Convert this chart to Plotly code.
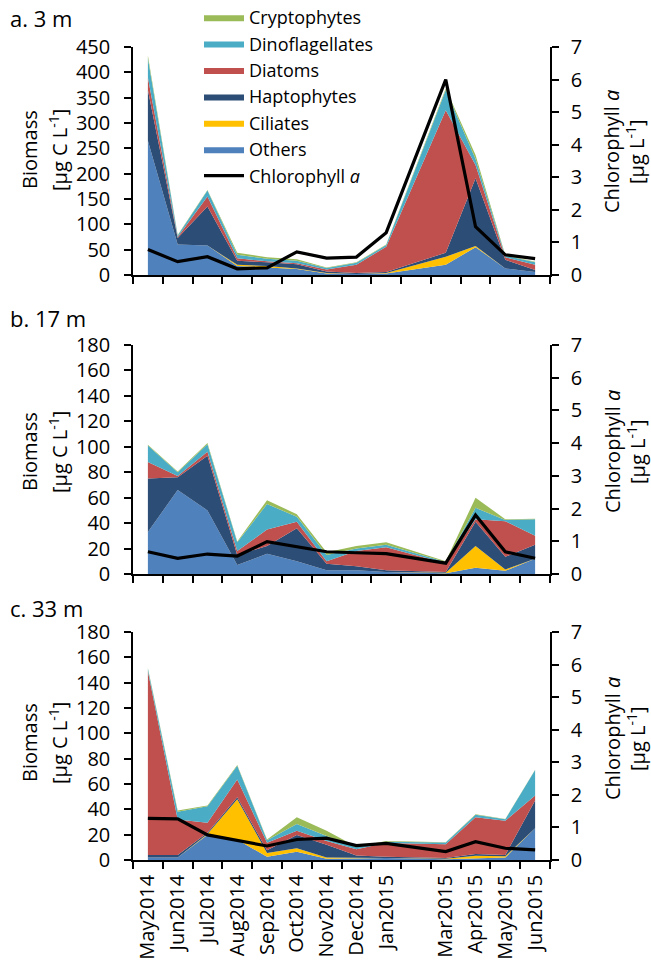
import pandas as pd
import plotly.graph_objects as go

# ---------------- data ----------------
months = ["May2014", "Jun2014", "Jul2014", "Aug2014", "Sep2014", "Oct2014", "Nov2014",
          "Dec2014", "Jan2015", "Mar2015", "Apr2015", "May2015", "Jun2015"]

groups = ["Others", "Ciliates", "Haptophytes", "Diatoms", "Dinoflagellates", "Cryptophytes"]

# panel a: 3 m
others_3m = [265, 60, 58, 18, 15, 12, 3, 2, 3, 20, 55, 13, 6]
ciliates_3m = [0, 0, 0, 2, 3, 1, 1, 0, 1, 16, 2, 0, 0]
hapto_3m = [100, 13, 77, 8, 7, 8, 3, 2, 2, 8, 134, 17, 4]
diatoms_3m = [25, 2, 20, 5, 2, 2, 4, 16, 50, 281, 26, 5, 10]
dino_3m = [38, 3, 12, 7, 5, 5, 3, 4, 3, 40, 12, 3, 5]
crypto_3m = [5, 1, 1, 4, 3, 3, 1, 1, 1, 3, 8, 1, 1]
chl_3m = [0.78, 0.41, 0.56, 0.19, 0.22, 0.71, 0.52, 0.55, 1.3, 6.0, 1.48, 0.62, 0.5]

# panel b: 17 m
others_17m = [33, 66, 50, 7, 16, 10, 3, 3, 1.5, 0.5, 5, 2.5, 12]
ciliates_17m = [0, 0, 0, 0, 0, 0, 0, 0, 0, 0.5, 17, 1, 0]
hapto_17m = [42, 10, 43, 8, 6, 26, 5, 3, 1.5, 0.5, 19, 10, 11]
diatoms_17m = [13, 1, 3, 3, 13, 5, 2, 12, 18, 7, 2, 28, 7]
dino_17m = [13, 3, 6, 7, 20, 4, 5, 2, 2, 1, 9, 1, 13]
crypto_17m = [0.5, 0.5, 1, 0.5, 3, 2, 2, 2, 2, 0.5, 8, 0.5, 0.5]
chl_17m = [0.68, 0.48, 0.61, 0.55, 0.99, 0.84, 0.68, 0.65, 0.62, 0.33, 1.8, 0.68, 0.48]

# panel c: 33 m
others_33m = [2, 2, 20, 16, 2.6, 6.5, 1, 1.5, 1.5, 0.5, 1.3, 2, 25]
ciliates_33m = [0, 0, 0.5, 32, 3, 2.7, 1, 0, 0, 0.5, 2, 1, 0]
hapto_33m = [2, 2, 1, 1.5, 2, 10.5, 10, 2, 1, 0.5, 1.5, 1, 22]
diatoms_33m = [145, 28, 8, 14, 6, 3.3, 3, 5, 11, 11, 29, 27, 4]
dino_33m = [2, 6, 13, 11, 2, 5.4, 4, 1.5, 1, 1.3, 2, 1.2, 20]
crypto_33m = [0.5, 1, 0.5, 0.5, 0.5, 5.3, 4, 0.5, 0.5, 0.2, 0.3, 0.2, 0.3]
chl_33m = [1.28, 1.26, 0.77, 0.61, 0.43, 0.63, 0.67, 0.44, 0.51, 0.26, 0.56, 0.36, 0.31]

panel_titles = ["a. 3 m", "b. 17 m", "c. 33 m"]
biomass_ticks = [list(range(0, 451, 50)), list(range(0, 181, 20)), list(range(0, 181, 20))]
chl_ticks = list(range(0, 8))

colors = {"Others": "#4F81BD", "Ciliates": "#FFC000", "Haptophytes": "#2C4D75",
          "Diatoms": "#C0504D", "Dinoflagellates": "#4BACC6", "Cryptophytes": "#9BBB59"}
ranks = {"Cryptophytes": 1, "Dinoflagellates": 2, "Diatoms": 3, "Haptophytes": 4,
         "Ciliates": 5, "Others": 6}

panels = [
    [others_3m, ciliates_3m, hapto_3m, diatoms_3m, dino_3m, crypto_3m, chl_3m],
    [others_17m, ciliates_17m, hapto_17m, diatoms_17m, dino_17m, crypto_17m, chl_17m],
    [others_33m, ciliates_33m, hapto_33m, diatoms_33m, dino_33m, crypto_33m, chl_33m],
]

# x positions: months since May2014 (Feb2015 has no sample -> gap)
dates = pd.to_datetime(months, format="%b%Y")
xpos = [(d.year - 2014) * 12 + d.month - 5 for d in dates]
nslots = xpos[-1] + 1

# ---------------- figure ----------------
W, H = 651, 965


def py(px):
    return 1 - px / H


def pxx(px):
    return px / W


X0, X1 = 133, 550
panel_px = [(47, 275), (345, 574), (632, 860)]
domains = [[py(b), py(t)] for t, b in panel_px]

FONT = "Open Sans"
FS = 20

fig = go.Figure()
for i, data in enumerate(panels):
    xa = "x" if i == 0 else f"x{i+1}"
    yl = "y" if i == 0 else f"y{2*i+1}"
    yr = f"y{2*i+2}"
    for g, vals in zip(groups, data[:6]):
        fig.add_trace(go.Scatter(
            x=xpos, y=vals, xaxis=xa, yaxis=yl, mode="lines",
            stackgroup=f"s{i}", line=dict(width=0, color=colors[g]),
            fillcolor=colors[g], name=g, legendrank=ranks[g],
            showlegend=(i == 0), hoverinfo="skip"))
    fig.add_trace(go.Scatter(
        x=xpos, y=data[6], xaxis=xa, yaxis=yr, mode="lines",
        line=dict(color="black", width=3.2), name="Chlorophyll <i>a</i>",
        legendrank=7, showlegend=(i == 0), hoverinfo="skip"))

layout = dict(
    width=W, height=H, margin=dict(l=0, r=0, t=0, b=0, autoexpand=False),
    paper_bgcolor="white", plot_bgcolor="rgba(0,0,0,0)",
    font=dict(family=FONT, size=FS, color="black"),
    showlegend=True,
    legend=dict(x=pxx(199), y=py(-1), xanchor="left", yanchor="top",
                traceorder="normal",
                bgcolor="rgba(0,0,0,0)", font=dict(size=18), itemwidth=40,
                tracegroupgap=0),
)

boundaries = [k - 0.5 for k in range(nslots + 1)]
for i in range(3):
    xname = "xaxis" if i == 0 else f"xaxis{i+1}"
    ylname = "yaxis" if i == 0 else f"yaxis{2*i+1}"
    yrname = f"yaxis{2*i+2}"
    yl_id = "y" if i == 0 else f"y{2*i+1}"
    layout[xname] = dict(
        domain=[pxx(X0), pxx(X1)], anchor=yl_id, range=[-0.5, nslots - 0.5],
        tickmode="array", tickvals=xpos, ticktext=months, ticks="",
        showticklabels=(i == 2), tickangle=-90, showline=True,
        linecolor="black", linewidth=1.5, showgrid=False, zeroline=False,
        tickfont=dict(size=FS), ticklabelstandoff=5, automargin=False,
        minor=dict(tickmode="array", tickvals=boundaries, ticks="outside",
                   ticklen=7, tickwidth=1.5, tickcolor="black", showgrid=False),
    )
    bt = biomass_ticks[i]
    layout[ylname] = dict(
        domain=domains[i], anchor="x" if i == 0 else f"x{i+1}",
        range=[0, bt[-1]], tickmode="array", tickvals=bt,
        ticks="outside", ticklen=7, tickwidth=1.5, tickcolor="black",
        showline=True, linecolor="black", linewidth=1.5, showgrid=False,
        zeroline=False, ticklabelstandoff=10, tickfont=dict(size=FS),
        automargin=False)
    layout[yrname] = dict(
        domain=domains[i], anchor="x" if i == 0 else f"x{i+1}",
        overlaying=yl_id, side="right",
        range=[0, 7], tickmode="array", tickvals=chl_ticks,
        ticks="outside", ticklen=7, tickwidth=1.5, tickcolor="black",
        showline=True, linecolor="black", linewidth=1.5, showgrid=False,
        zeroline=False, ticklabelstandoff=8, tickfont=dict(size=FS),
        automargin=False)

fig.update_layout(**layout)

# panel titles and axis titles
title_y = [18, 318, 608]
left_center = [150, 452, 743]
right_center = [152, 452, 739]
ann = []
for i in range(3):
    ann.append(dict(text=panel_titles[i], xref="paper", yref="paper",
                    x=pxx(8), y=py(title_y[i]), xanchor="left", yanchor="middle",
                    showarrow=False, font=dict(size=FS + 2)))
    ann.append(dict(text="Biomass", xref="paper", yref="paper", textangle=-90,
                    x=pxx(29), y=py(left_center[i]), xanchor="center", yanchor="middle",
                    showarrow=False, font=dict(size=FS)))
    ann.append(dict(text="[µg C L<sup>-1</sup>]", xref="paper", yref="paper", textangle=-90,
                    x=pxx(58), y=py(left_center[i]), xanchor="center", yanchor="middle",
                    showarrow=False, font=dict(size=FS)))
    ann.append(dict(text="Chlorophyll <i>a</i>", xref="paper", yref="paper", textangle=-90,
                    x=pxx(612), y=py(right_center[i]), xanchor="center", yanchor="middle",
                    showarrow=False, font=dict(size=FS)))
    ann.append(dict(text="[µg L<sup>-1</sup>]", xref="paper", yref="paper", textangle=-90,
                    x=pxx(636), y=py(right_center[i]), xanchor="center", yanchor="middle",
                    showarrow=False, font=dict(size=FS)))
fig.update_layout(annotations=ann)

fig.write_html("out.html", config={"displayModeBar": False},
               post_script="document.body.style.margin='0px';"
                           "document.body.style.overflow='hidden';")
